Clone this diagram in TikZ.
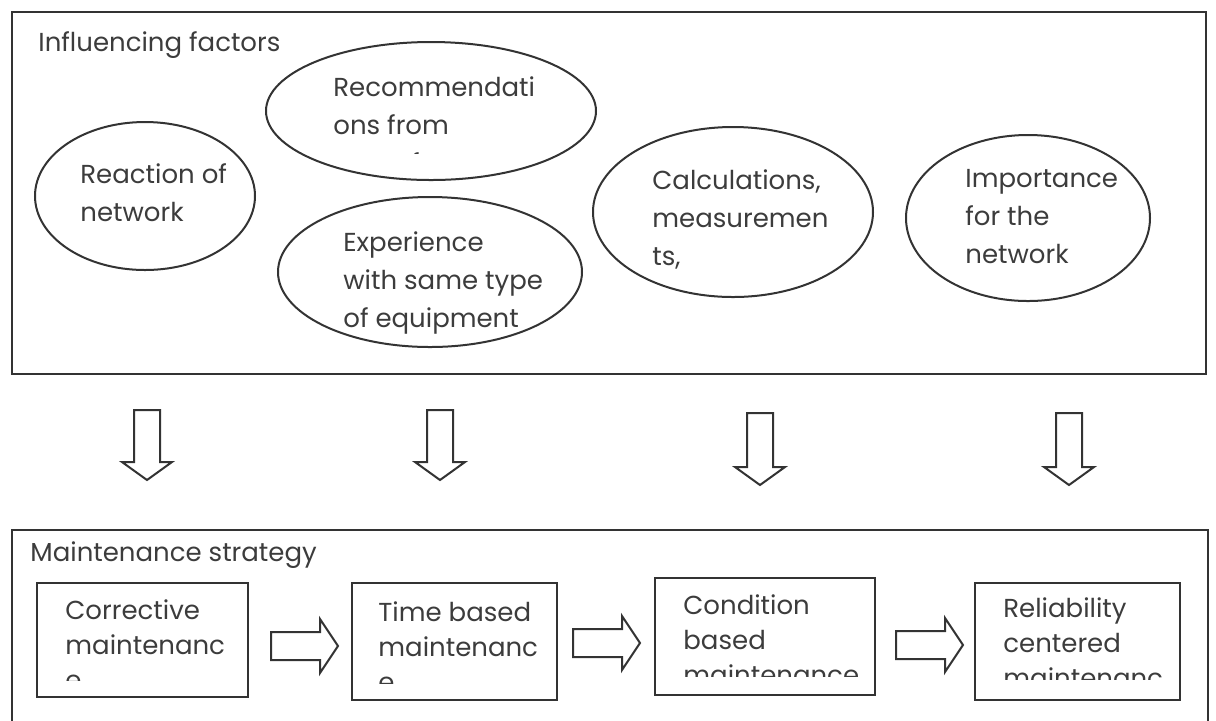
\documentclass[tikz,border=0pt]{standalone}
\usepackage{fontspec}
\setmainfont{Poppins}
\usetikzlibrary{shapes.geometric}
\definecolor{inkgray}{HTML}{333333}
\definecolor{textgray}{HTML}{3C3C3C}
\tikzset{
  outerframe/.style={draw=inkgray, line width=1.3pt},
  factor/.style={ellipse, draw=inkgray, line width=1pt, inner sep=0pt},
  factortext/.style={text=textgray, font=\fontsize{13}{19}\selectfont, align=left, anchor=west, inner sep=0pt},
  stage/.style={draw=inkgray, line width=1pt, inner sep=0pt},
  stagetext/.style={text=textgray, font=\fontsize{13}{17.5}\selectfont, align=left, anchor=west, inner sep=0pt},
  hollow/.style={draw=inkgray, line width=1pt, line join=miter},
}
\begin{document}
\begin{tikzpicture}[x=0.5pt, y=-0.5pt]
\useasboundingbox (0,0) rectangle (1216,720);
\clip (0,0) rectangle (1216,720);
% influencing factors
\draw[outerframe] (12,12) rectangle (1206,374);
\node[factortext] (infl) at (38,45) {Influencing factors};
\node[factor, minimum width=110pt, minimum height=74pt] (reaction) at (145,196) {};
\node[factortext] (reactiontxt) at (80,193) {Reaction of\\network};
\node[factor, minimum width=165pt, minimum height=69pt] (recomm) at (431,111) {};
\begin{scope}
\clip (267,42) rectangle (597,153);
\node[factortext] (recommtxt) at (333,125) {Recommendati\\ons from\\manufacturers};
\end{scope}
\node[factor, minimum width=152pt, minimum height=75pt] (exper) at (430,272) {};
\node[factortext] (expertxt) at (343,283) {Experience\\with same type\\of equipment};
\node[factor, minimum width=140pt, minimum height=85pt] (calc) at (733,212) {};
\node[factortext] (calctxt) at (652,219) {Calculations,\\measuremen\\ts,};
\node[factor, minimum width=122pt, minimum height=83pt] (import) at (1028,218) {};
\node[factortext] (importtxt) at (965,217) {Importance\\for the\\network};
% arrows down
\draw[hollow] (134,410) -- ++(26,0) -- ++(0,52) -- ++(12,0) -- ++(-25,18) -- ++(-25,-18) -- ++(12,0) -- cycle;
\draw[hollow] (427,410) -- ++(26,0) -- ++(0,52) -- ++(12,0) -- ++(-25,18) -- ++(-25,-18) -- ++(12,0) -- cycle;
\draw[hollow] (747,413) -- ++(26,0) -- ++(0,54) -- ++(12,0) -- ++(-25,18) -- ++(-25,-18) -- ++(12,0) -- cycle;
\draw[hollow] (1056,413) -- ++(26,0) -- ++(0,54) -- ++(12,0) -- ++(-25,18) -- ++(-25,-18) -- ++(12,0) -- cycle;
% maintenance strategy
\draw[outerframe] (12,740) -- (12,530) -- (1208,530) -- (1208,740);
\node[factortext] (maint) at (30,555) {Maintenance strategy};
\node[stage, minimum width=105.5pt, minimum height=57pt] (corr) at (142.5,640) {};
\node[stage, minimum width=102.5pt, minimum height=58.5pt] (timeb) at (454.5,641.5) {};
\node[stage, minimum width=110pt, minimum height=58.5pt] (condb) at (765,636.5) {};
\node[stage, minimum width=102.5pt, minimum height=58.5pt] (relc) at (1077.5,641.5) {};
\begin{scope}
\clip (37,583) rectangle (248,680);
\node[stagetext] (corrtxt) at (65,645) {Corrective\\maintenanc\\e};
\end{scope}
\begin{scope}
\clip (352,583) rectangle (557,683);
\node[stagetext] (timebtxt) at (378,647) {Time based\\maintenanc\\e};
\end{scope}
\begin{scope}
\clip (655,578) rectangle (875,676);
\node[stagetext] (condbtxt) at (683,640) {Condition\\based\\maintenance};
\end{scope}
\begin{scope}
\clip (975,583) rectangle (1180,679);
\node[stagetext] (relctxt) at (1003,643) {Reliability\\centered\\maintenanc};
\end{scope}
% arrows right
\draw[hollow] (271,632) -- ++(49,0) -- ++(0,-13) -- ++(18,27) -- ++(-18,27) -- ++(0,-13) -- ++(-49,0) -- cycle;
\draw[hollow] (573,629) -- ++(49,0) -- ++(0,-13) -- ++(18,27) -- ++(-18,27) -- ++(0,-13) -- ++(-49,0) -- cycle;
\draw[hollow] (896,631) -- ++(49,0) -- ++(0,-13) -- ++(18,27) -- ++(-18,27) -- ++(0,-13) -- ++(-49,0) -- cycle;
\end{tikzpicture}
\end{document}
